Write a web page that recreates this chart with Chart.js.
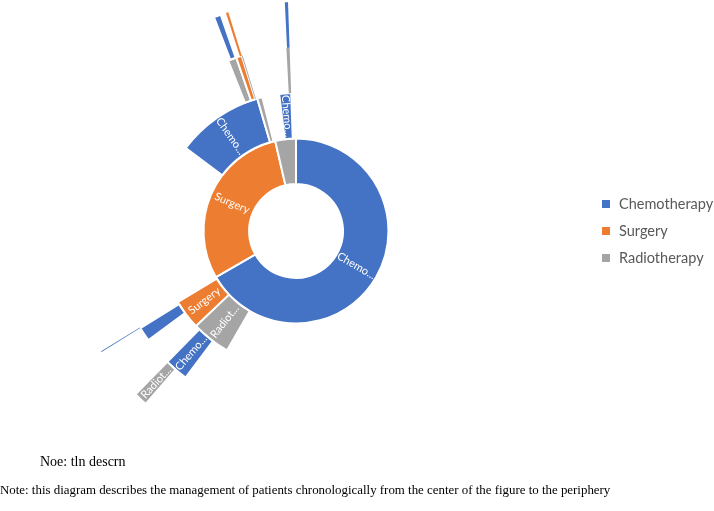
<!DOCTYPE html>
<html>
<head>
<meta charset="utf-8">
<script src="https://cdn.jsdelivr.net/npm/chart.js@4.4.1/dist/chart.umd.min.js"></script>
<style>
  html, body { margin: 0; padding: 0; background: #fff; }
  body { width: 714px; height: 511px; position: relative; overflow: hidden; }
  #chart { position: absolute; left: 0; top: 0; }
  .legend-item { position: absolute; left: 602px; white-space: nowrap; font-family: Lato, "Open Sans", sans-serif; font-size: 14.5px; color: #595959; line-height: 16px; }
  .legend-box { display: inline-block; width: 8px; height: 8px; margin-right: 9px; vertical-align: 1px; }
  .note { position: absolute; white-space: nowrap; font-family: "Liberation Serif", "Times New Roman", serif; font-size: 12.9px; color: #000; line-height: 14px; }
</style>
</head>
<body>
<canvas id="chart" width="714" height="511"></canvas>
<div id="legend"></div>
<div class="note" style="left:40px; top:455px; font-size:14px;">Noe: tln descrn</div>
<div class="note" style="left:0; top:483px;">Note: this diagram describes the management of patients chronologically from the center of the figure to the periphery</div>
<script>
  const treatments = ["Chemotherapy", "Surgery", "Radiotherapy"];
  const treatmentColors = ["#4472C4", "#ED7D31", "#A5A5A5"];

  // each ring is one line of treatment, read clockwise from 12 o'clock
  // shares are parts of the full circle (360); null = no further treatment
  const firstLine = ["Chemotherapy", "Surgery", "Radiotherapy"];
  const firstLineShare = [240, 107, 13];

  const secondLine = [null, "Radiotherapy", "Surgery", null, null, "Chemotherapy", "Radiotherapy", null, null, "Chemotherapy", null];
  const secondLineShare = [210, 16.5, 12.5, 1, 67, 36.7, 2.2, 1.1, 6, 5, 2];

  const thirdLine = [null, "Chemotherapy", null, "Chemotherapy", null, "Radiotherapy", "Surgery", "Radiotherapy", null, "Radiotherapy", null];
  const thirdLineShare = [217, 7.5, 9, 4.5, 100.3, 2.7, 1.8, 0.3, 13.9, 1, 2];

  const fourthLine = [null, "Radiotherapy", null, "Chemotherapy", null, "Chemotherapy", null, "Surgery", null, "Chemotherapy", null];
  const fourthLineShare = [221, 3.5, 13.6, 0.2, 100.7, 1.8, 1.4, 0.6, 14.4, 0.8, 2];

  const colorOf = (name) => name ? treatmentColors[treatments.indexOf(name)] : "rgba(0,0,0,0)";

  // smallest arc (px, at mid radius) that still gets a label, per ring
  const rings = [
    { names: firstLine, values: firstLineShare, minArc: 20 },
    { names: secondLine, values: secondLineShare, minArc: 9 },
    { names: thirdLine, values: thirdLineShare, minArc: 15 },
    { names: fourthLine, values: fourthLineShare, minArc: 10 },
  ];

  // chart.js draws dataset 0 as the outermost ring
  const datasets = rings.slice().reverse().map((ring) => ({
    data: ring.values,
    names: ring.names,
    minArc: ring.minArc,
    backgroundColor: ring.names.map(colorOf),
    borderColor: "#fff",
    borderWidth: ring.names.map((n, i) => (n && ring.values[i] >= 1.5 ? 2 : 0)),
  }));

  const ringLabels = {
    id: "ringLabels",
    afterDatasetsDraw(chart) {
      const ctx = chart.ctx;
      ctx.save();
      ctx.font = "11px Lato, 'Open Sans', sans-serif";
      ctx.fillStyle = "#fff";
      ctx.textAlign = "center";
      ctx.textBaseline = "middle";
      chart.data.datasets.forEach((ds, di) => {
        chart.getDatasetMeta(di).data.forEach((arc, i) => {
          const name = ds.names[i];
          if (!name) return;
          const { x, y, startAngle, endAngle, innerRadius, outerRadius } = arc.getProps(
            ["x", "y", "startAngle", "endAngle", "innerRadius", "outerRadius"], true);
          const mid = (startAngle + endAngle) / 2;
          const r = (innerRadius + outerRadius) / 2;
          if ((endAngle - startAngle) * r < ds.minArc) return;
          const room = outerRadius - innerRadius - 1;
          let text = name;
          if (ctx.measureText(text).width > room) {
            let n = name.length;
            while (n > 1 && ctx.measureText(name.slice(0, n) + "...").width > room) n--;
            text = name.slice(0, n) + "...";
          }
          ctx.save();
          ctx.translate(x + Math.cos(mid) * r, y + Math.sin(mid) * r);
          ctx.rotate(Math.cos(mid) < 0 ? mid + Math.PI : mid);
          ctx.fillText(text, 0, 0);
          ctx.restore();
        });
      });
      ctx.restore();
    },
  };

  new Chart(document.getElementById("chart"), {
    type: "doughnut",
    data: { labels: firstLine, datasets },
    plugins: [ringLabels],
    options: {
      responsive: false,
      animation: false,
      cutout: "20.5%",
      layout: { padding: { left: 66, top: 1, right: 188, bottom: 50 } },
      plugins: {
        legend: { display: false },
        tooltip: { enabled: false },
      },
    },
  });

  const legend = document.getElementById("legend");
  treatments.forEach((name, i) => {
    const item = document.createElement("div");
    item.className = "legend-item";
    item.style.top = 196 + i * 27 + "px";
    item.innerHTML = '<span class="legend-box" style="background:' + treatmentColors[i] + '"></span>' + name;
    legend.appendChild(item);
  });
</script>
</body>
</html>
